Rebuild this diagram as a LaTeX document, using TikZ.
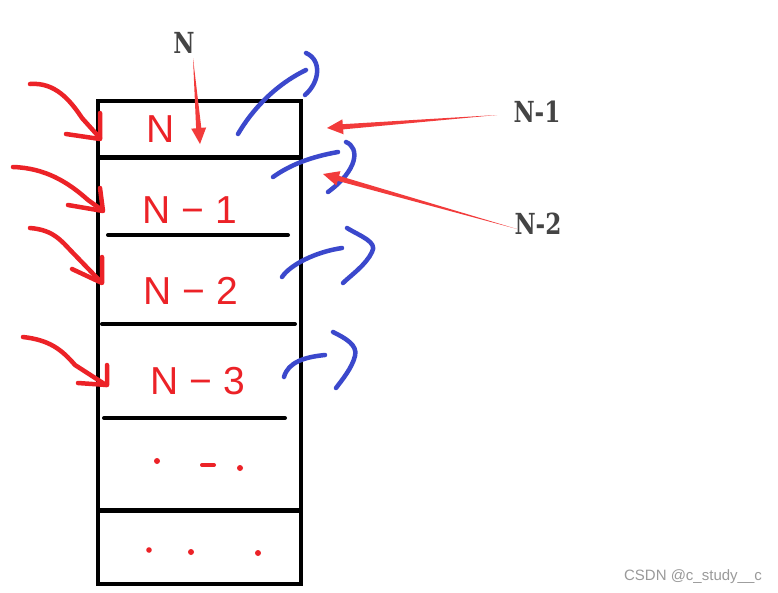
\documentclass[tikz,border=0pt]{standalone}
\usepackage{fontspec}
\newfontfamily\handfont{Liberation Sans}
\newfontfamily\wmfont{Liberation Sans}
\newfontfamily\lblfont{DejaVu Serif}
\usetikzlibrary{calc}
\definecolor{penred}{HTML}{EC2227}
\definecolor{arrred}{HTML}{F23B3B}
\definecolor{penblue}{HTML}{3B48CC}
\definecolor{lblgray}{HTML}{444444}
\definecolor{wmgray}{HTML}{9A9A9A}
\newcommand{\taperarrow}[2]{%
  \path ($(#2)!16pt!(#1)$) coordinate (tb);
  \fill[arrred] (#1) -- ($(tb)!2.6pt!90:(#2)$) -- ($(tb)!7.5pt!90:(#2)$) -- (#2)
     -- ($(tb)!7.5pt!-90:(#2)$) -- ($(tb)!2.6pt!-90:(#2)$) -- cycle;}
\newcommand{\narrowlbl}[1]{\scalebox{0.8}[1]{#1}}
\begin{document}
\begin{tikzpicture}[x=1pt,y=-1pt,
  redpen/.style={draw=penred,line width=4.5pt,line cap=round,line join=round},
  bluepen/.style={draw=penblue,line width=4.5pt,line cap=round,line join=round},
  hand/.style={text=penred,font=\handfont\fontsize{39}{39}\selectfont,inner sep=0pt},
  lbl/.style={text=lblgray,font=\lblfont\bfseries\fontsize{29}{29}\selectfont,inner sep=0pt},
  wm/.style={text=wmgray,font=\wmfont\fontsize{15}{15}\selectfont,inner sep=0pt},
  sep/.style={line width=4pt,line cap=round}]
\useasboundingbox (0,0) rectangle (778,592);
\fill[white] (0,0) rectangle (778,592);
% stack box
\draw[line width=4pt] (98,101) rectangle (301,584);
\draw[line width=5pt] (98,157) -- (301,157);
\draw[sep] (108,235) -- (288,235);
\draw[sep] (102,324) -- (295,324);
\draw[sep] (104,418) -- (285,418);
\draw[line width=5pt] (98,510) -- (301,510);
% handwritten contents
\node[hand] (cN) at (161,129) {N};
\node[hand] (cN1) at (190,210) {N − 1};
\node[hand] (cN2) at (191,291) {N − 2};
\node[hand] (cN3) at (198,381) {N − 3};
\fill[penred] (157,461) circle (3);
\draw[redpen,line width=4pt] (202,465) -- (214,465);
\fill[penred] (240,468) circle (3);
\fill[penred] (149,550) circle (2.8);
\fill[penred] (191,552) circle (3);
\fill[penred] (258,553) circle (3);
% red incoming scribbles
\draw[redpen] (30,84) .. controls (55,82) and (70,100) .. (82,118) -- (100,138);
\draw[redpen] (66,134) -- (100,139) -- (100,113);
\draw[redpen] (13,167) .. controls (45,168) and (68,182) .. (88,200) -- (102,210);
\draw[redpen] (68,205) -- (103,211) -- (100,188);
\draw[redpen] (30,228) .. controls (55,230) and (62,242) .. (75,255) -- (101,282);
\draw[redpen] (72,269) -- (102,283) -- (102,257);
\draw[redpen] (23,337) .. controls (50,340) and (62,350) .. (75,365) -- (106,385);
\draw[redpen] (78,383) -- (107,385) -- (107,365);
% blue outgoing scribbles
\draw[bluepen] (238,134) .. controls (252,110) and (275,85) .. (306,70);
\draw[bluepen] (306,53) .. controls (322,60) and (320,82) .. (305,95);
\draw[bluepen] (273,177) .. controls (290,165) and (310,157) .. (338,152);
\draw[bluepen] (346,142) .. controls (360,148) and (358,170) .. (328,192);
\draw[bluepen] (282,277) .. controls (290,265) and (315,252) .. (342,248);
\draw[bluepen] (347,228) .. controls (360,236) and (378,242) .. (372,252) .. controls (366,265) and (350,276) .. (343,283);
\draw[bluepen] (284,377) .. controls (288,362) and (305,357) .. (325,355);
\draw[bluepen] (333,332) .. controls (345,338) and (358,345) .. (355,356) .. controls (352,368) and (342,380) .. (336,388);
% gray labels with tapered arrows
\node[lbl] (lblN) at (184,43) {\narrowlbl{N}};
\node[lbl] (lblN1) at (537,112) {\narrowlbl{N-1}};
\node[lbl] (lblN2) at (538,224) {\narrowlbl{N-2}};
\coordinate (tN) at (193,58);
\coordinate (hN) at (200,144);
\coordinate (t1) at (497,115);
\coordinate (h1) at (327,128);
\coordinate (t2) at (517,229);
\coordinate (h2) at (323,174);
\taperarrow{tN}{hN}
\taperarrow{t1}{h1}
\taperarrow{t2}{h2}
% watermark
\node[wm] (wm) at (693,577) {CSDN @c\_study\_\_c};
\end{tikzpicture}
\end{document}
